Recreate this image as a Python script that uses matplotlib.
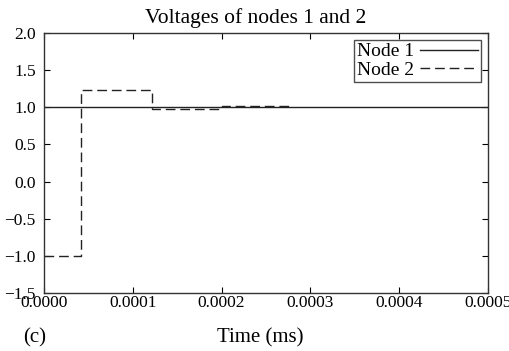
import matplotlib
matplotlib.use('Agg')
import matplotlib.pyplot as plt

plt.rcParams['font.family'] = ['Liberation Serif', 'DejaVu Serif']
plt.rcParams['lines.scale_dashes'] = False

# data
t1 = [0.0, 0.0005]
v1 = [1.0, 1.0]
t2 = [0.0, 4.2e-5, 1.22e-4, 2.0e-4, 2.8e-4]
v2 = [-1.0, 1.23, 0.98, 1.02, 1.02]
xticks = [0.0, 0.0001, 0.0002, 0.0003, 0.0004, 0.0005]
yticks = [-1.5, -1.0, -0.5, 0.0, 0.5, 1.0, 1.5, 2.0]

fig = plt.figure(figsize=(5.1, 3.51), dpi=100)
ax = fig.add_axes([44/510, 1-293/351, 444/510, 260/351])

ax.plot(t1, v1, color='#222222', lw=1.0, label='Node 1')
ax.step(t2, v2, where='post', color='#222222', lw=1.0, dashes=(7, 3.5), label='Node 2')

ax.set_xlim(0, 0.0005)
ax.set_ylim(-1.5, 2.0)
ax.set_xticks(xticks)
ax.set_xticklabels(['%.4f' % x for x in xticks])
ax.set_yticks(yticks)
ax.set_yticklabels([('%.1f' % y).replace('-', '\u2212') for y in yticks])
ax.tick_params(direction='in', top=True, right=True, labelsize=12.5, length=4.5, width=0.8)
ax.tick_params(axis='x', pad=1.5)
ax.tick_params(axis='y', pad=6)
for s in ax.spines.values():
    s.set_linewidth(1.0)
    s.set_color('#333333')

ax.set_title('Voltages of nodes 1 and 2', fontsize=15.5, pad=7, x=0.477)
ax.set_xlabel('Time (ms)', fontsize=15)
ax.xaxis.set_label_coords(0.487, -0.135)
fig.text(23/510, 1-338/351, '(c)', fontsize=15, va='center')

leg = ax.legend(loc='upper right', markerfirst=False, fontsize=14, frameon=True, fancybox=False,
                edgecolor='#222222', borderpad=0.15, labelspacing=0.05, handlelength=3.0,
                handletextpad=0.3, borderaxespad=0.35)
leg.get_frame().set_linewidth(1.0)

fig.savefig('out.png', dpi=100)
